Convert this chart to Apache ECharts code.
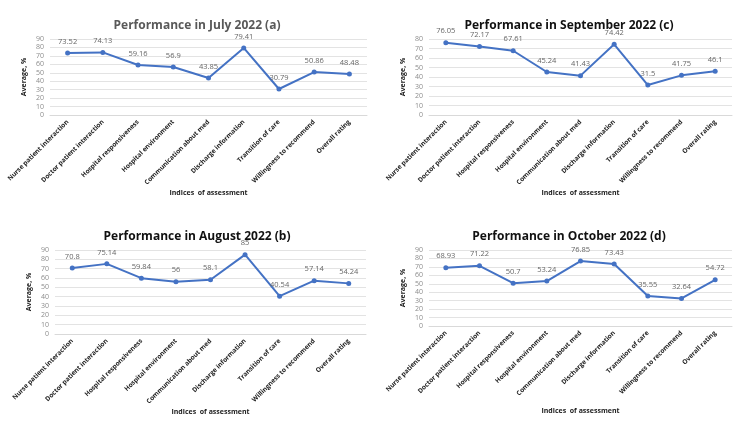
<!DOCTYPE html>
<html>
<head>
<meta charset="utf-8">
<script src="https://cdn.jsdelivr.net/npm/echarts@6/dist/echarts.min.js"></script>
<style>
  html, body { margin: 0; padding: 0; background: #fff; }
  #chart { width: 750px; height: 422px; }
</style>
</head>
<body>
<div id="chart"></div>
<script>
const categories = [
  "Nurse patient interaction",
  "Doctor patient interaction",
  "Hospital responsiveness",
  "Hospital environment",
  "Communication about med",
  "Discharge information",
  "Transition of care",
  "Willingness to recommend",
  "Overall rating",
];

const julyValues = [73.52, 74.13, 59.16, 56.9, 43.85, 79.41, 30.79, 50.86, 48.48];
const augustValues = [70.8, 75.14, 59.84, 56, 58.1, 85, 40.54, 57.14, 54.24];
const septemberValues = [76.05, 72.17, 67.61, 45.24, 41.43, 74.42, 31.5, 41.75, 46.1];
const octoberValues = [68.93, 71.22, 50.7, 53.24, 76.85, 73.43, 35.55, 32.64, 54.72];

const panelTitles = [
  "Performance in July 2022 (a)",
  "Performance in September 2022 (c)",
  "Performance in August 2022 (b)",
  "Performance in October 2022 (d)",
];
const yMaxValues = [90, 80, 90, 90];

const FONT = "'Open Sans', 'Liberation Sans', sans-serif";
const LINE_COLOR = "#4472C4";

// layout for each panel: grid box, title position, axis name gaps
const panels = [
  { data: julyValues, grid: { left: 50, top: 39, width: 317, height: 76 }, titleX: 192, titleY: 15, titleColor: "#595959", xNameGap: 71 },
  { data: septemberValues, grid: { left: 429, top: 39, width: 303, height: 76 }, titleX: 564, titleY: 15, titleColor: "#111", xNameGap: 72 },
  { data: augustValues, grid: { left: 55, top: 250, width: 311, height: 84 }, titleX: 192, titleY: 226, titleColor: "#111", xNameGap: 71 },
  { data: octoberValues, grid: { left: 429, top: 250, width: 303, height: 76 }, titleX: 564, titleY: 226, titleColor: "#111", xNameGap: 81 },
];

const chart = echarts.init(document.getElementById("chart"));

chart.setOption({
  backgroundColor: "#fff",
  animation: false,
  title: panels.map((p, i) => ({
    text: panelTitles[i],
    left: p.titleX,
    top: p.titleY,
    textAlign: "center",
    textStyle: { fontFamily: FONT, fontSize: 12, fontWeight: "bold", color: p.titleColor },
  })),
  grid: panels.map((p) => p.grid),
  xAxis: panels.map((p, i) => ({
    type: "category",
    gridIndex: i,
    data: categories,
    boundaryGap: true,
    name: "Indices  of assessment",
    nameLocation: "middle",
    nameGap: p.xNameGap,
    nameTextStyle: { fontFamily: FONT, fontSize: 7, fontWeight: "bold", color: "#222" },
    axisLine: { show: true, lineStyle: { color: "#d9d9d9", width: 1 } },
    axisTick: { show: false },
    axisLabel: {
      interval: 0,
      rotate: 45,
      margin: 6,
      fontFamily: FONT,
      fontSize: 6.5,
      fontWeight: "bold",
      color: "#222",
    },
  })),
  yAxis: panels.map((p, i) => ({
    type: "value",
    gridIndex: i,
    min: 0,
    max: yMaxValues[i],
    interval: 10,
    name: "Average, %",
    nameLocation: "middle",
    nameGap: 23,
    nameTextStyle: { fontFamily: FONT, fontSize: 7, fontWeight: "bold", color: "#222" },
    axisLine: { show: false },
    axisTick: { show: false },
    axisLabel: { fontFamily: FONT, fontSize: 7, color: "#8c8c8c", margin: 6 },
    splitLine: { lineStyle: { color: "#e3e3e3", width: 1 } },
  })),
  series: panels.map((p, i) => ({
    type: "line",
    xAxisIndex: i,
    yAxisIndex: i,
    data: p.data,
    symbol: "circle",
    symbolSize: 5,
    lineStyle: { color: LINE_COLOR, width: 2 },
    itemStyle: { color: LINE_COLOR },
    label: {
      show: true,
      position: "top",
      distance: 5,
      fontFamily: FONT,
      fontSize: 7.5,
      color: "#666",
    },
  })),
});
</script>
</body>
</html>
